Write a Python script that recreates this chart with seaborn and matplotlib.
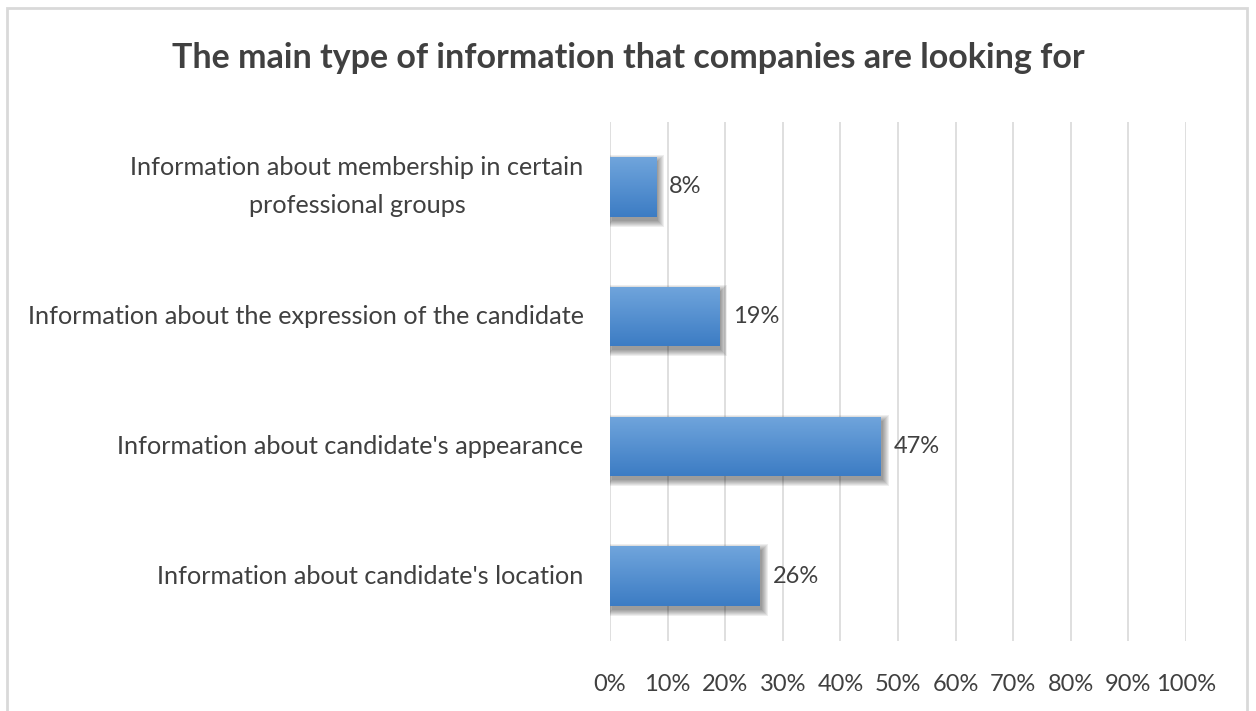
import numpy as np
import pandas as pd
import matplotlib
matplotlib.use("Agg")
import matplotlib.pyplot as plt
import matplotlib.transforms as mtransforms
from matplotlib.colors import LinearSegmentedColormap
from matplotlib.patches import Rectangle
import seaborn as sns

categories = [
    "Information about membership in certain\nprofessional groups",
    "Information about the expression of the candidate",
    "Information about candidate's appearance",
    "Information about candidate's location",
]
shares = [8, 19, 47, 26]
tick_values = [0, 10, 20, 30, 40, 50, 60, 70, 80, 90, 100]
tick_labels = [f"{v}%" for v in tick_values]
title = "The main type of information that companies are looking for"

sns.set_theme(style="white")
plt.rcParams["font.family"] = ["Lato", "DejaVu Sans"]

df = pd.DataFrame({"category": categories, "share": shares})

fig = plt.figure(figsize=(12.56, 7.11), dpi=100)
ax = fig.add_axes([610 / 1256, 1 - 641 / 711, 576 / 1256, 519 / 711])

sns.barplot(data=df, x="share", y="category", orient="h", color="#4a89d0",
            width=0.46, ax=ax, saturation=1)

# gradient fill + soft blurred shadow on each bar
grad = LinearSegmentedColormap.from_list("bar", ["#70a5dc", "#3c7cc4"])
gimg = np.linspace(0, 1, 256).reshape(-1, 1)
for bar in list(ax.patches):
    x0, y0 = bar.get_x(), bar.get_y()
    w, h = bar.get_width(), bar.get_height()
    bar.set_edgecolor("none")
    bar.set_zorder(3)
    shift = mtransforms.offset_copy(ax.transData, fig=fig, x=2.0, y=-4.0, units="dots")
    for k in range(7):
        grow_x = k * 1.0 / 5.76
        grow_y = k * 1.0 / 129.75
        sh = Rectangle((x0 - grow_x, y0 - grow_y), w + 2 * grow_x, h + 2 * grow_y,
                       transform=shift, facecolor="black", edgecolor="none",
                       alpha=0.065, zorder=2)
        ax.add_patch(sh)
    im = ax.imshow(gimg, cmap=grad, aspect="auto", extent=(x0, x0 + w, y0 + h, y0),
                   origin="upper", zorder=3.1)
    im.set_clip_path(bar)

for i, v in enumerate(shares):
    ax.text(v + 2.3, i, f"{v}%", va="center", ha="left", fontsize=17, color="#404040")

ax.set_xlim(0, 100)
ax.set_ylim(3.5, -0.5)
ax.set_xticks(tick_values)
ax.set_xticklabels(tick_labels)
ax.tick_params(axis="x", length=0, pad=24, labelsize=17, labelcolor="#404040")
ax.tick_params(axis="y", length=0, pad=19, labelsize=18.2, labelcolor="#404040")
for lab in ax.get_yticklabels():
    lab.set_horizontalalignment("right")
    lab.set_verticalalignment("center")
    lab.set_multialignment("center")
    lab.set_linespacing(1.8)
ax.set_xlabel("")
ax.set_ylabel("")
ax.grid(axis="x", color="#d9d9d9", linewidth=1.2)
ax.set_axisbelow(True)
for s in ax.spines.values():
    s.set_visible(False)

fig.text(0.5, 1 - 58 / 711, title, ha="center", va="center", fontsize=24.5,
         fontweight="bold", color="#404040")

# outer chart frame
fig.patches.append(Rectangle((7 / 1256, -0.05), (1247 - 7) / 1256, 1.05 - 8 / 711,
                             transform=fig.transFigure, fill=False,
                             edgecolor="#d9d9d9", linewidth=2))

fig.savefig("out.png", dpi=100)
